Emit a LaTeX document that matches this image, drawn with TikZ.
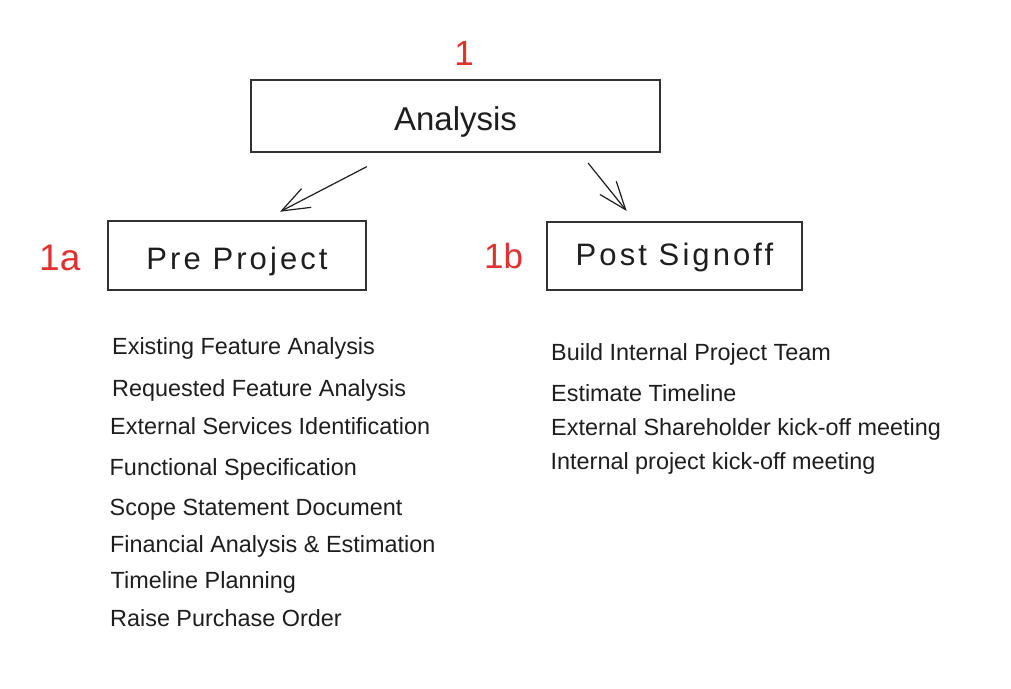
\documentclass[tikz,border=0pt]{standalone}
\usepackage{fontspec}
\setmainfont{Liberation Sans}
\newfontfamily\handA{Liberation Sans}
\newfontfamily\handB[LetterSpace=10]{Liberation Sans}
\usetikzlibrary{arrows.meta}
\definecolor{ink}{RGB}{30,30,30}
\definecolor{boxline}{RGB}{50,50,50}
\definecolor{tagred}{RGB}{224,49,49}
\tikzset{
  box/.style={draw=boxline, line width=1.2pt, inner sep=0pt, text=ink},
  tag/.style={text=tagred, inner sep=0pt, anchor=base west},
  item/.style={text=ink, inner sep=0pt, anchor=base west, font=\fontsize{23.4}{28}\selectfont},
  link/.style={draw=ink, line width=1.2pt, line cap=round, line join=round,
    -{Straight Barb[length=28pt,width=21pt,line width=1.2pt]}},
}
\begin{document}
\begin{tikzpicture}[x=1pt,y=-1pt]
\useasboundingbox[fill=white] (0,0) rectangle (1011,688);

% main boxes
\node[box, minimum width=409pt, minimum height=72pt, text height=28pt, text depth=0pt,
  font=\handA\fontsize{33}{40}\selectfont] (analysis) at (455.5,116) {Analysis};
\node[box, minimum width=258pt, minimum height=69pt, text height=27pt, text depth=0pt,
  font=\handB\fontsize{31}{38}\selectfont] (pre) at (237,255.5) {Pre Project};
\node[box, minimum width=255pt, minimum height=68pt, text height=18pt, text depth=0pt,
  font=\handB\fontsize{31}{38}\selectfont] (post) at (674.5,256) {Post Signoff};

% red tags
\node[tag, anchor=base, font=\fontsize{35}{42}\selectfont] (t1) at (464,65) {1};
\node[tag, font=\fontsize{37}{44}\selectfont] (t1a) at (39,270) {1a};
\node[tag, font=\fontsize{35}{42}\selectfont] (t1b) at (484,268) {1b};

% arrows
\coordinate (l0) at (366.7,166.7);
\coordinate (l1) at (280,211.7);
\coordinate (r0) at (588.3,163.3);
\coordinate (r1) at (626.7,211);
\draw[link] (l0) -- (l1);
\draw[link] (r0) -- (r1);

% left list
\node[item] (a1) at (112,354) {Existing Feature Analysis};
\node[item] (a2) at (112,396) {Requested Feature Analysis};
\node[item] (a3) at (110,434) {External Services Identification};
\node[item] (a4) at (109.5,475) {Functional Specification};
\node[item] (a5) at (109.5,515) {Scope Statement Document};
\node[item] (a6) at (110,552) {Financial Analysis \& Estimation};
\node[item] (a7) at (110.5,588) {Timeline Planning};
\node[item] (a8) at (110,626) {Raise Purchase Order};

% right list
\node[item] (b1) at (551,360) {Build Internal Project Team};
\node[item] (b2) at (551,401) {Estimate Timeline};
\node[item] (b3) at (551,435) {External Shareholder kick-off meeting};
\node[item] (b4) at (550.5,469.5) {Internal project kick-off meeting};
\end{tikzpicture}
\end{document}
